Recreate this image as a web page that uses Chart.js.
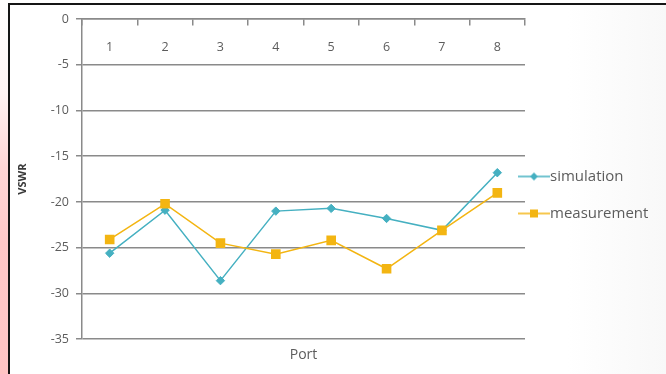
<!DOCTYPE html>
<html><head><meta charset="utf-8">
<script src="https://cdn.jsdelivr.net/npm/chart.js@4"></script>
<style>
html,body{margin:0;padding:0;background:#fff;}
#wrap{position:relative;width:666px;height:374px;overflow:hidden;background:#fff;}
#strip{position:absolute;left:0;top:0;width:8px;height:374px;background:linear-gradient(to bottom,#ffffff 0%,#fff4f4 25%,#ffd6d6 45%,#ffc8c8 65%,#ffc4c4 100%);}
#frame{position:absolute;left:8px;top:3px;right:0;bottom:0;border-top:2px solid #151515;border-left:2px solid #151515;background:linear-gradient(to right,#fff 0%,#fff 85%,#f8f8f8 100%);}
canvas{position:absolute;left:0;top:0;}
</style></head><body>
<div id="wrap"><div id="strip"></div><div id="frame"></div><canvas id="c" width="666" height="374"></canvas></div>
<script>
const ports = ['1', '2', '3', '4', '5', '6', '7', '8'];
const simulation = [-25.6, -20.9, -28.6, -21.0, -20.7, -21.8, -23.1, -16.8];
const measurement = [-24.1, -20.2, -24.5, -25.7, -24.2, -27.3, -23.1, -19.0];
const yMin = -35, yMax = 0, yStep = 5;
const seriesNames = ['simulation', 'measurement'];
const xTitle = 'Port';
const yTitle = 'VSWR';

const simColor = '#45B0C1';
const measColor = '#F3B512';
const gridColor = '#8a8a8a';
const textColor = '#5c5c5c';
const FONT = "'Open Sans', 'DejaVu Sans', sans-serif";

function legendIcon(color, shape) {
  const c = document.createElement('canvas');
  c.width = 32; c.height = 12;
  const g = c.getContext('2d');
  g.strokeStyle = color; g.lineWidth = 1.5;
  g.beginPath(); g.moveTo(0, 6); g.lineTo(32, 6); g.stroke();
  g.fillStyle = color;
  if (shape === 'diamond') {
    g.beginPath(); g.moveTo(16, 2); g.lineTo(20, 6); g.lineTo(16, 10); g.lineTo(12, 6); g.closePath(); g.fill();
  } else {
    g.fillRect(12, 2, 8, 8);
  }
  return c;
}
const icons = [legendIcon(simColor, 'diamond'), legendIcon(measColor, 'square')];

const LEG_PAD = 22, LEG_BOX = 17, LEG_DY = 2;
const legendShift = {
  id: 'legendShift',
  afterLayout(chart) {
    const lg = chart.legend;
    if (!lg) return;
    const dx = (chart.chartArea.right + 9) - (lg.left + LEG_PAD + LEG_BOX / 2);
    lg.left += dx;
    lg.right = chart.width;
    lg.width = lg.right - lg.left;
    lg.top += LEG_DY; lg.bottom += LEG_DY;
  }
};

new Chart(document.getElementById('c'), {
  type: 'line',
  data: {
    labels: ports,
    datasets: [
      {
        label: seriesNames[0], data: simulation, xAxisID: 'x', yAxisID: 'y', order: 1,
        borderColor: simColor, backgroundColor: simColor, borderWidth: 1.5, tension: 0,
        pointStyle: 'rectRot', pointRadius: 4.2, pointBorderWidth: 1, pointBackgroundColor: simColor, pointBorderColor: simColor
      },
      {
        label: seriesNames[1], data: measurement, xAxisID: 'x', yAxisID: 'y', order: 0,
        borderColor: measColor, backgroundColor: measColor, borderWidth: 1.5, tension: 0,
        pointStyle: 'rect', pointRadius: 6.8, pointBorderWidth: 0, pointBackgroundColor: measColor, pointBorderColor: measColor
      }
    ]
  },
  options: {
    responsive: false,
    animation: false,
    devicePixelRatio: 1,
    layout: { padding: { left: 12, top: 19, right: 0, bottom: 7 } },
    plugins: {
      tooltip: { enabled: false },
      legend: {
        position: 'right',
        maxWidth: 141,
        labels: {
          usePointStyle: true,
          pointStyleWidth: LEG_BOX,
          padding: LEG_PAD,
          color: textColor,
          font: { family: FONT, size: 15 },
          sort: (a, b) => a.datasetIndex - b.datasetIndex,
          generateLabels(chart) {
            const items = Chart.defaults.plugins.legend.labels.generateLabels(chart);
            items.forEach(it => { it.pointStyle = icons[it.datasetIndex]; });
            return items;
          }
        }
      }
    },
    scales: {
      y: {
        position: 'left',
        min: yMin, max: yMax,
        ticks: { stepSize: yStep, color: textColor, font: { family: FONT, size: 12.5 }, padding: 7 },
        grid: { color: gridColor, lineWidth: 1.5, tickLength: 6, drawTicks: true },
        border: { display: true, color: gridColor, width: 1.5 },
        title: { display: true, text: yTitle, color: '#3a3a3a', font: { family: FONT, size: 11, weight: 'bold' }, padding: { top: 4, bottom: 4 } },
        afterFit(scale) { scale.width = 70; }
      },
      x: {
        type: 'category',
        position: { y: 0 },
        offset: true,
        ticks: { color: textColor, font: { family: FONT, size: 12.5 }, padding: 15, maxRotation: 0 },
        grid: { offset: true, drawOnChartArea: false, drawTicks: true, tickLength: 6, color: gridColor, lineWidth: 1.5 },
        border: { display: true, color: gridColor, width: 1.5 }
      },
      xb: {
        type: 'category',
        position: 'bottom',
        labels: ports,
        offset: true,
        ticks: { display: false },
        grid: { display: false, drawTicks: false },
        border: { display: false },
        title: { display: true, text: xTitle, color: textColor, font: { family: FONT, size: 14 }, padding: { top: 7, bottom: 4 } }
      }
    }
  },
  plugins: [legendShift]
});
</script>
</body></html>
